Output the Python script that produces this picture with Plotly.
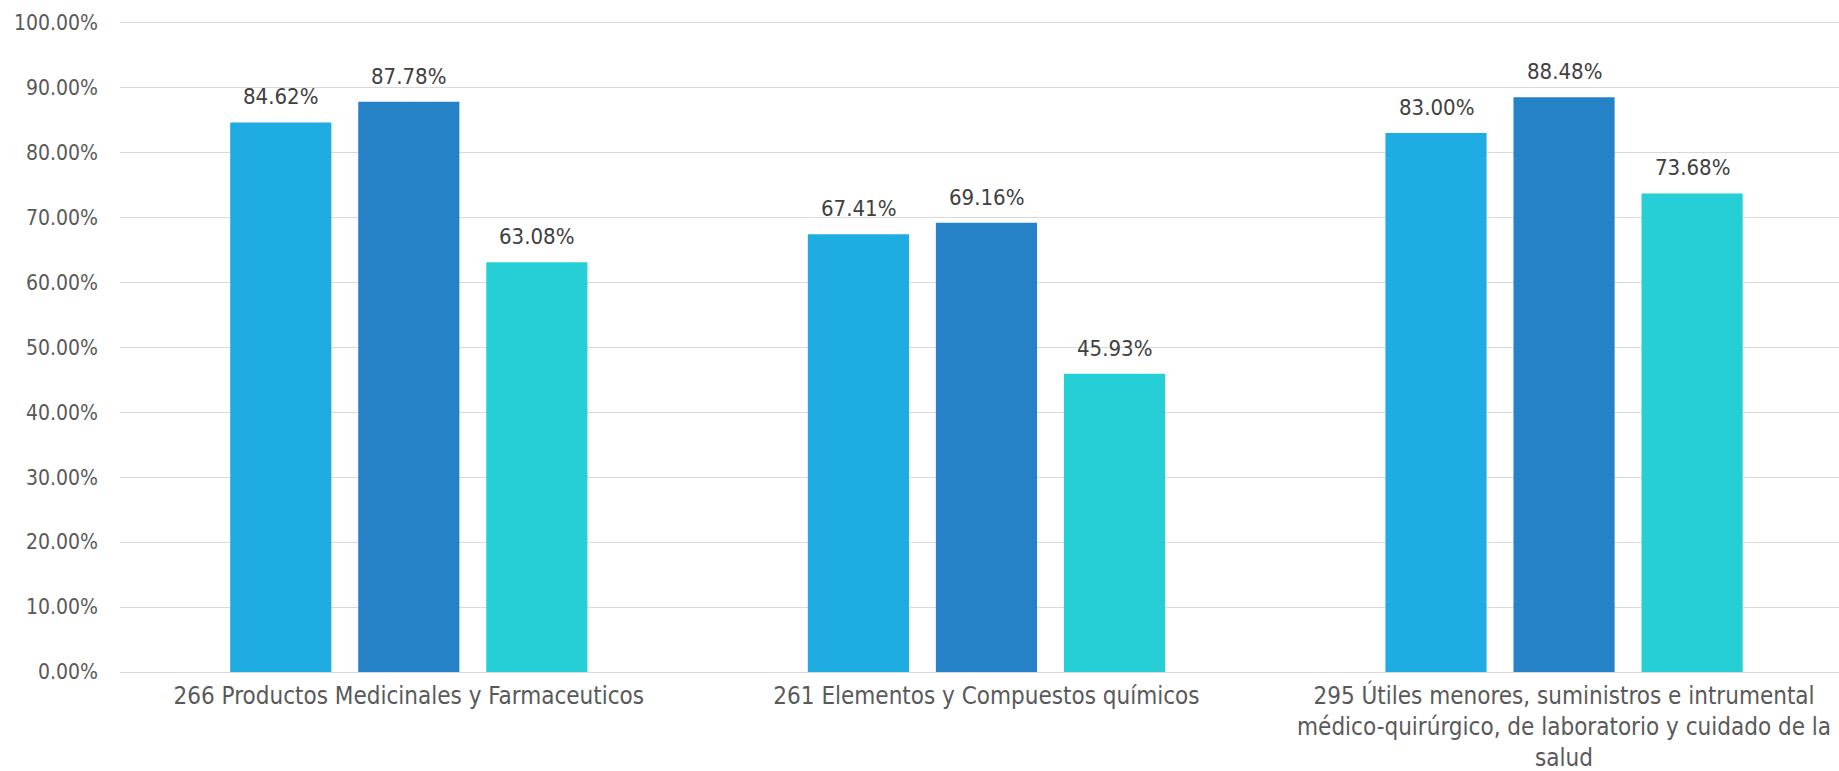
import plotly.graph_objects as go

categories = [
    "266 Productos Medicinales y Farmaceuticos",
    "261 Elementos y Compuestos químicos",
    "295 Útiles menores, suministros e intrumental<br>médico-quirúrgico, de laboratorio y cuidado de la<br>salud",
]
series_a = [0.8462, 0.6741, 0.8300]
series_b = [0.8778, 0.6916, 0.8848]
series_c = [0.6308, 0.4593, 0.7368]
series_names = ["Serie 1", "Serie 2", "Serie 3"]
colors = ["#1EACE2", "#2682C6", "#26CED6"]
y_ticks = [i / 10 for i in range(11)]

FONT = "DejaVu Sans Condensed, DejaVu Sans, sans-serif"
BARGAP = 0.335
BARGROUPGAP = 0.21

fig = go.Figure()
all_series = [series_a, series_b, series_c]
for name, vals, col in zip(series_names, all_series, colors):
    fig.add_trace(go.Bar(
        x=categories, y=vals, name=name,
        marker=dict(color=col, line=dict(width=0)),
        hovertemplate="%{x}<br>%{y:.2%}<extra></extra>",
    ))

# data labels placed over each bar using the category axis positions
slot = (1 - BARGAP) / len(all_series)
annotations = []
for i, vals in enumerate(all_series):
    offset = (i - (len(all_series) - 1) / 2) * slot
    for j, v in enumerate(vals):
        annotations.append(dict(
            x=j + offset, y=v, xref="x", yref="y",
            text=f"{v:.2%}", showarrow=False,
            yanchor="bottom", yshift=11,
            font=dict(family=FONT, size=22, color="#404040"),
        ))

fig.update_layout(
    width=1839, height=771,
    margin=dict(l=120, r=0, t=16, b=99),
    paper_bgcolor="white", plot_bgcolor="white",
    barmode="group", bargap=BARGAP, bargroupgap=BARGROUPGAP,
    showlegend=False,
    font=dict(family=FONT, size=21, color="#595959"),
    annotations=annotations,
)
fig.update_xaxes(
    range=[-0.5, 2.476], showgrid=False, showline=False,
    tickfont=dict(family=FONT, size=24, color="#595959"),
    ticks="", ticklabelstandoff=7, automargin=False,
)
fig.update_yaxes(
    range=[0, 1.01], tickvals=y_ticks, tickformat=".2%",
    showgrid=True, gridcolor="#D9D9D9", gridwidth=1.3,
    zeroline=True, zerolinecolor="#D9D9D9", zerolinewidth=1.3,
    tickfont=dict(family=FONT, size=21, color="#595959"),
    ticklabelstandoff=21, automargin=False,
)

fig.write_html(
    "out.html",
    config={"displayModeBar": False},
    post_script="document.body.style.margin='0';document.body.style.overflow='hidden';",
)
